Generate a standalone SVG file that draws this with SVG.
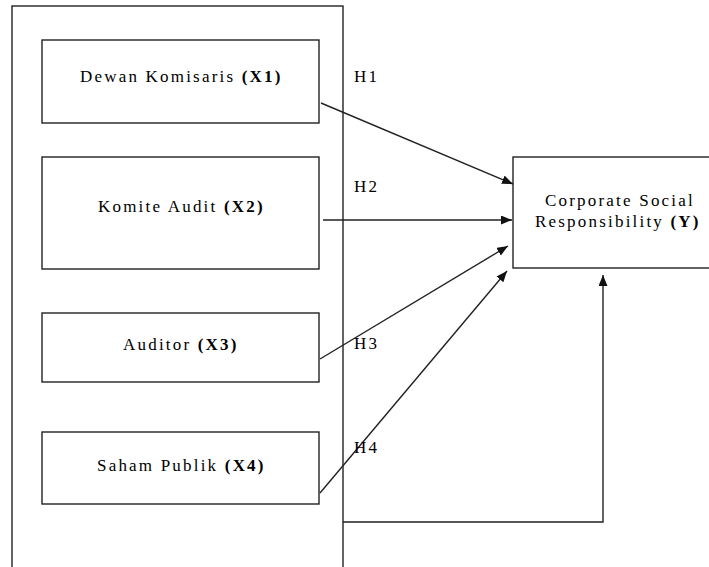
<svg xmlns="http://www.w3.org/2000/svg" width="709" height="567" viewBox="0 0 709 567">
<style>
.box{fill:#fff;stroke:#222;stroke-width:1.4}
.t{font-family:"Liberation Serif","Times New Roman",serif;font-size:17px;fill:#000;letter-spacing:2.2px}
.b{font-weight:bold}
.c{fill:none;stroke:#222;stroke-width:1.4}
</style>
<defs>
<marker id="ah" markerUnits="userSpaceOnUse" markerWidth="12" markerHeight="10" refX="11" refY="4.5" orient="auto">
<path d="M0,0 L11,4.5 L0,9 Z" fill="#111"/>
</marker>
</defs>
<rect width="709" height="567" fill="#fff"/>
<g id="outer"><rect class="box" x="12" y="6" width="331" height="600"/></g>
<g id="x1"><rect class="box" x="42" y="40" width="277" height="83"/><text class="t" x="80" y="82">Dewan Komisaris <tspan class="b">(X1)</tspan></text></g>
<g id="x2"><rect class="box" x="42" y="157" width="277" height="112"/><text class="t" x="98" y="212">Komite Audit <tspan class="b">(X2)</tspan></text></g>
<g id="x3"><rect class="box" x="42" y="313" width="277" height="69"/><text class="t" x="123" y="350">Auditor <tspan class="b">(X3)</tspan></text></g>
<g id="x4"><rect class="box" x="42" y="432" width="277" height="72"/><text class="t" x="97" y="471">Saham Publik <tspan class="b">(X4)</tspan></text></g>
<g id="y"><rect class="box" x="513" y="157" width="210" height="111"/><text class="t" x="545" y="206">Corporate Social</text><text class="t" x="535" y="227">Responsibility <tspan class="b">(Y)</tspan></text></g>
<g id="connectors">
<line class="c" x1="321" y1="103" x2="513" y2="184" marker-end="url(#ah)"/>
<line class="c" x1="323" y1="220" x2="512" y2="220" marker-end="url(#ah)"/>
<line class="c" x1="320" y1="359" x2="508" y2="246" marker-end="url(#ah)"/>
<line class="c" x1="320" y1="493" x2="507" y2="271" marker-end="url(#ah)"/>
<polyline class="c" points="343,522 603,522 603,275" marker-end="url(#ah)"/>
</g>
<g id="labels">
<text class="t" x="354" y="82">H1</text>
<text class="t" x="354" y="192">H2</text>
<text class="t" x="354" y="349">H3</text>
<text class="t" x="354" y="453">H4</text>
</g>
</svg>
